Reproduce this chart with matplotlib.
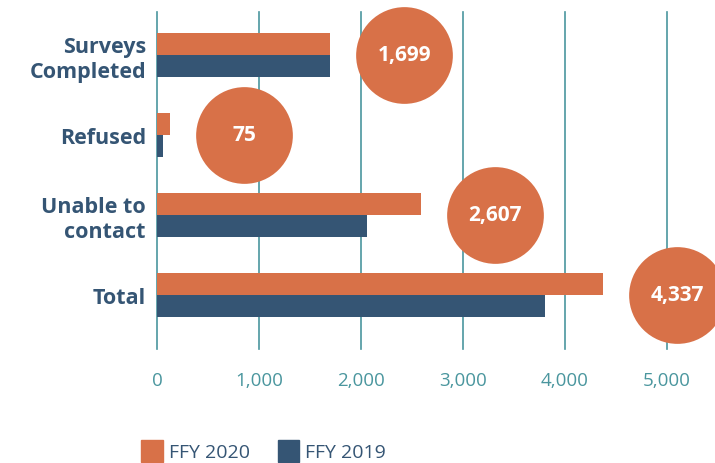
import matplotlib.pyplot as plt
from matplotlib.patches import Patch
import numpy as np

# data
categories = ['Surveys\nCompleted', 'Refused', 'Unable to\ncontact', 'Total']
ffy2020 = [1699, 128, 2590, 4373]
ffy2019 = [1699, 59, 2060, 3804]
bubble_labels = ['1,699', '75', '2,607', '4,337']
xticks = [0, 1000, 2000, 3000, 4000, 5000]
xtick_labels = ['0', '1,000', '2,000', '3,000', '4,000', '5,000']

orange = '#D87148'
navy = '#355574'
teal = '#4A969E'

plt.rcParams['font.family'] = ['Open Sans', 'DejaVu Sans']


def main():
    fig = plt.figure(figsize=(7.15, 4.64), dpi=100)
    ax = fig.add_axes([157 / 715, 1 - 350 / 464, 510 / 715, 337 / 464])

    y = np.arange(len(categories))
    h = 0.275
    ax.barh(y - h / 2, ffy2020, height=h, color=orange, zorder=2)
    ax.barh(y + h / 2, ffy2019, height=h, color=navy, zorder=2)

    # label bubbles sit a fixed distance past the FFY 2020 bar
    for yi, v, lab in zip(y, ffy2020, bubble_labels):
        bx = v + 725
        ax.scatter(bx, yi, s=4850, color=orange, zorder=3,
                   clip_on=False, linewidths=0)
        ax.text(bx, yi, lab, color='white', fontsize=15,
                fontweight='bold', ha='center', va='center', zorder=4)

    ax.set_xlim(0, 5000)
    ax.set_ylim(3.675, -0.5375)
    ax.set_xticks(xticks)
    ax.set_xticklabels(xtick_labels)
    ax.set_yticks(y)
    ax.set_yticklabels(categories, fontsize=15.5, fontweight='bold',
                       color=navy, linespacing=1.25)
    ax.tick_params(axis='x', length=0, pad=16, labelsize=13.5,
                   labelcolor=teal)
    ax.tick_params(axis='y', length=0, pad=8)

    for s in ax.spines.values():
        s.set_visible(False)
    for xt in xticks:
        ax.axvline(xt, color=teal, lw=1.2, zorder=1, clip_on=False)

    handles = [Patch(color=orange, label='FFY 2020'),
               Patch(color=navy, label='FFY 2019')]
    leg = fig.legend(handles=handles, loc='lower left',
                     bbox_to_anchor=(124 / 715, -0.036), ncol=2,
                     frameon=False, fontsize=14, handlelength=1.1,
                     handleheight=1.4, handletextpad=0.3,
                     columnspacing=1.45)
    for t in leg.get_texts():
        t.set_color(navy)

    fig.savefig('out.png', dpi=100)


if __name__ == '__main__':
    main()
